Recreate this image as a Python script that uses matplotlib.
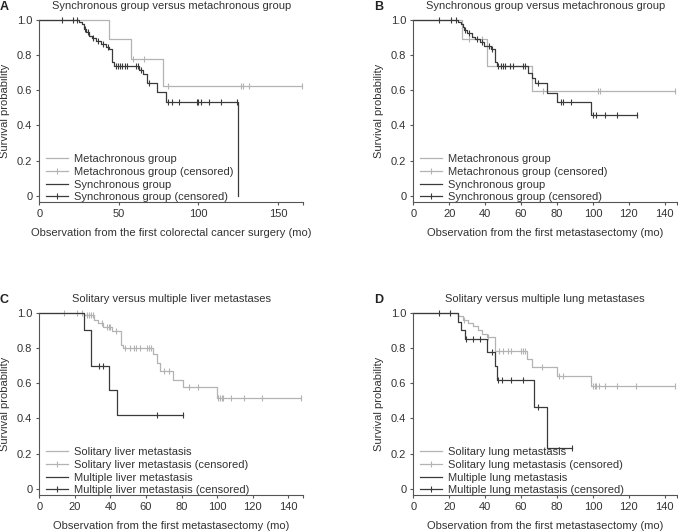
import matplotlib
matplotlib.use('Agg')
import matplotlib.pyplot as plt
from matplotlib.lines import Line2D
import numpy as np

plt.rcParams['font.family'] = ['Liberation Sans', 'DejaVu Sans']
plt.rcParams['font.size'] = 8

LIGHT = '#b3b3b3'
DARK = '#3a3a3a'
TXT = '#333333'

# ---- panel A: from first colorectal cancer surgery ----
meta_A_t = [44, 57.5, 78]
meta_A_s = [0.89, 0.78, 0.625]
meta_A_c = [59, 66, 81, 127, 128, 132, 165]
sync_A_t = [25, 27, 28, 29.5, 31.5, 33, 35.5, 38.5, 42, 44, 45.5, 47, 62.5, 65, 67.5, 74, 79.6, 125]
sync_A_s = [0.99, 0.975, 0.95, 0.93, 0.91, 0.895, 0.88, 0.86, 0.848, 0.835, 0.76, 0.735,
            0.715, 0.69, 0.64, 0.59, 0.532, 0.0]
sync_A_c = [14, 21, 24, 29, 30.5, 34, 37, 40, 43, 48, 49.2, 50.7, 52.3, 54, 55, 60.7, 62,
            64, 69, 80.7, 83.5, 88, 99, 100, 101.7, 107, 114.3, 124.5]

# ---- panel B: from first metastasectomy ----
meta_B_t = [27, 41, 66]
meta_B_s = [0.89, 0.74, 0.595]
meta_B_c = [31, 38, 72, 103, 104, 145.5]
sync_B_t = [25, 26.3, 27.5, 28.2, 29.7, 32.5, 34.3, 37.1, 39.3, 43, 45.5, 46.4, 64, 66, 68,
            74.2, 80, 99]
sync_B_s = [0.99, 0.975, 0.96, 0.94, 0.925, 0.905, 0.892, 0.873, 0.854, 0.835, 0.76, 0.735,
            0.70, 0.67, 0.64, 0.585, 0.532, 0.46]
sync_B_c = [14.3, 20.8, 24, 28.8, 31, 35.5, 38, 42, 44, 47.3, 48.6, 49.7, 51, 53.8, 55.7,
            61.2, 62.2, 69.5, 82, 83.3, 87.8, 100.3, 101.7, 106.7, 113.2, 124.5]

# ---- panel C: liver ----
sol_C_t = [25, 31, 33, 36, 41, 46, 47, 64, 66, 68, 75, 81, 100]
sol_C_s = [0.985, 0.96, 0.94, 0.92, 0.895, 0.82, 0.80, 0.765, 0.715, 0.672, 0.62, 0.577, 0.516]
sol_C_c = [14, 21, 24, 27, 28, 29, 30, 35, 38, 39, 40, 43, 48, 51, 53, 54.4, 56.6, 60.4,
           61.7, 62.6, 70, 73, 84, 89, 100.5, 101.5, 102.5, 103.5, 108, 115, 125, 147]
mul_C_t = [25, 29, 39, 43.5]
mul_C_s = [0.90, 0.70, 0.56, 0.42]
mul_C_c = [33.4, 35.6, 66, 81]

# ---- panel D: lung ----
sol_D_t = [25, 27.8, 30.6, 33, 36, 38.5, 40.8, 45.5, 63.5, 65.9, 80, 98.9]
sol_D_s = [0.98, 0.96, 0.94, 0.925, 0.90, 0.88, 0.86, 0.785, 0.74, 0.695, 0.643, 0.585]
sol_D_c = [28.5, 41.5, 47.5, 49.8, 52.5, 54.4, 60, 61, 62, 71.5, 81, 83.3, 100, 101, 102,
           103.5, 107, 113.7, 124, 145.6]
mul_D_t = [25, 26.5, 28.8, 41, 45.5, 46.4, 67.4, 74.5]
mul_D_s = [0.95, 0.90, 0.85, 0.78, 0.70, 0.62, 0.465, 0.235]
mul_D_c = [14.1, 20.6, 29.3, 33, 37, 43.6, 47.3, 49.5, 54.2, 61.2, 69.2, 88.5]

yticks = [0, 0.2, 0.4, 0.6, 0.8, 1.0]
ytick_labels = ['0', '0.2', '0.4', '0.6', '0.8', '1.0']


def km(ax, times, surv, cens, color):
    t_end = max(max(times), max(cens))
    xs = [0] + list(times) + [t_end]
    ys = [1.0] + list(surv) + [surv[-1]]
    ax.step(xs, ys, where='post', color=color, lw=0.9, clip_on=False)
    levels = np.array([1.0] + list(surv))
    idx = np.searchsorted(times, cens, side='right')
    ax.plot(cens, levels[idx], ls='none', marker='|', ms=5, mew=0.8,
            color=color, clip_on=False)


fig = plt.figure(figsize=(6.78, 5.32), dpi=100)

W = 264 / 678
H = 182.5 / 532
panels = [
    # letter, rect, title, xlabel, xmax, xticks, curves, names
    ('A', [39.3 / 678, 1 - 202.3 / 532, W, H], 'Synchronous group versus metachronous group',
     'Observation from the first colorectal cancer surgery (mo)', 166, [0, 50, 100, 150],
     [(meta_A_t, meta_A_s, meta_A_c), (sync_A_t, sync_A_s, sync_A_c)],
     ['Metachronous group', 'Synchronous group']),
    ('B', [413.3 / 678, 1 - 202.3 / 532, W, H], 'Synchronous group versus metachronous group',
     'Observation from the first metastasectomy (mo)', 147, list(range(0, 141, 20)),
     [(meta_B_t, meta_B_s, meta_B_c), (sync_B_t, sync_B_s, sync_B_c)],
     ['Metachronous group', 'Synchronous group']),
    ('C', [39.3 / 678, 1 - 495.3 / 532, W, H], 'Solitary versus multiple liver metastases',
     'Observation from the first metastasectomy (mo)', 148.5, list(range(0, 141, 20)),
     [(sol_C_t, sol_C_s, sol_C_c), (mul_C_t, mul_C_s, mul_C_c)],
     ['Solitary liver metastasis', 'Multiple liver metastasis']),
    ('D', [413.3 / 678, 1 - 495.3 / 532, W, H], 'Solitary versus multiple lung metastases',
     'Observation from the first metastasectomy (mo)', 147, list(range(0, 141, 20)),
     [(sol_D_t, sol_D_s, sol_D_c), (mul_D_t, mul_D_s, mul_D_c)],
     ['Solitary lung metastasis', 'Multiple lung metastasis']),
]

for letter, rect, title, xlabel, xmax, xticks, curves, names in panels:
    ax = fig.add_axes(rect)
    for (t, s, c), col in zip(curves, [LIGHT, DARK]):
        km(ax, t, s, c, col)
    ax.set_xlim(0, xmax)
    ax.set_ylim(-0.036, 1.0)
    ax.set_xticks(xticks)
    ax.set_xticks([xmax], minor=True)
    ax.set_yticks(yticks)
    ax.set_yticklabels(ytick_labels)
    for side in ['top', 'right']:
        ax.spines[side].set_visible(False)
    for side in ['left', 'bottom']:
        ax.spines[side].set_color('#555555')
        ax.spines[side].set_linewidth(0.8)
    ax.tick_params(which='both', direction='out', length=2.5, width=0.8,
                   color='#555555', labelcolor=TXT, pad=2.5, labelsize=8)
    ax.set_xlabel(xlabel, color=TXT, fontsize=8)
    ax.xaxis.set_label_coords(0.5, -0.14)
    ax.set_ylabel('Survival probability', color=TXT, fontsize=8)
    ax.yaxis.set_label_coords(-0.11, 0.5)
    ax.set_title(title, color=TXT, fontsize=8, pad=8)

    handles = [
        Line2D([], [], color=LIGHT, lw=0.9),
        Line2D([], [], color=LIGHT, lw=0.9, marker='|', ms=5, mew=0.8),
        Line2D([], [], color=DARK, lw=0.9),
        Line2D([], [], color=DARK, lw=0.9, marker='|', ms=5, mew=0.8),
    ]
    labels = [names[0], names[0] + ' (censored)', names[1], names[1] + ' (censored)']
    ax.legend(handles, labels, loc='lower left', bbox_to_anchor=(0.027, 0.0),
              frameon=False, borderpad=0, borderaxespad=0, handlelength=1.95,
              handletextpad=0.5, labelspacing=0.25, fontsize=8, labelcolor=TXT)

    x_letter = 4 if letter in 'AC' else 379
    y_letter = 7 if letter in 'AB' else 300
    fig.text(x_letter / 678, 1 - y_letter / 532, letter, ha='center', va='center',
             fontsize=9, fontweight='bold', color='#222222')

fig.savefig('out.png', dpi=100)
